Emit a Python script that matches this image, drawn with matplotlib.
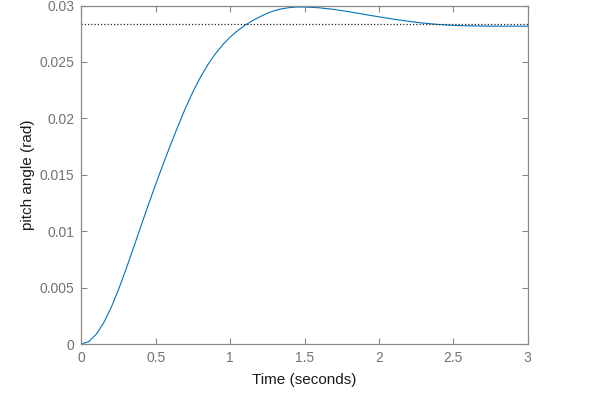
import matplotlib
matplotlib.use("Agg")
import matplotlib.pyplot as plt

# Step response readings (time in s, pitch angle in rad)
t_vals = [0.0, 0.05, 0.1, 0.15, 0.2, 0.25, 0.3, 0.35, 0.4, 0.45, 0.5,
          0.55, 0.6, 0.65, 0.7, 0.75, 0.8, 0.85, 0.9, 0.95, 1.0,
          1.05, 1.1, 1.15, 1.2, 1.25, 1.3, 1.35, 1.4, 1.45, 1.5,
          1.6, 1.7, 1.8, 1.9, 2.0, 2.1, 2.2, 2.3, 2.4, 2.5,
          2.6, 2.7, 2.8, 2.9, 3.0]
y_vals = [0.0, 0.000225, 0.000875, 0.0019, 0.00325, 0.00486, 0.00665, 0.00854, 0.01046, 0.01236, 0.0142,
          0.01598, 0.0177, 0.01936, 0.02094, 0.02238, 0.02365, 0.02477, 0.02572, 0.02653, 0.02721,
          0.02778, 0.02826, 0.02866, 0.02901, 0.02932, 0.02956, 0.02972, 0.02982, 0.02987, 0.02987,
          0.0298, 0.02965, 0.02945, 0.02922, 0.029, 0.02879, 0.0286, 0.02844, 0.02832, 0.02824,
          0.0282, 0.02818, 0.02817, 0.02817, 0.02817]
steady_state = 0.02833

x_ticks = [0, 0.5, 1, 1.5, 2, 2.5, 3]
x_tick_labels = ["0", "0.5", "1", "1.5", "2", "2.5", "3"]
y_ticks = [0, 0.005, 0.01, 0.015, 0.02, 0.025, 0.03]
y_tick_labels = ["0", "0.005", "0.01", "0.015", "0.02", "0.025", "0.03"]

plt.rcParams['font.family'] = ['Liberation Sans', 'DejaVu Sans']

fig = plt.figure(figsize=(5.91, 3.96), dpi=100)
ax = fig.add_axes([0.1379, 0.1313, 0.755, 0.8547])

ax.plot(t_vals, y_vals, color='#0072BD', lw=0.8)
ax.axhline(steady_state, color='#262626', lw=0.9, ls=(0, (1, 1.6)))

ax.set_xlim(0, 3)
ax.set_ylim(0, 0.03)
ax.set_xticks(x_ticks)
ax.set_xticklabels(x_tick_labels)
ax.set_yticks(y_ticks)
ax.set_yticklabels(y_tick_labels)

gray = '#8a8a8a'
for s in ax.spines.values():
    s.set_color(gray)
    s.set_linewidth(0.9)
ax.tick_params(direction='in', length=4, width=0.8, color=gray,
               labelcolor='#737373', labelsize=10,
               top=True, right=True, pad=5)

ax.set_xlabel('Time (seconds)', fontsize=11, color='#1a1a1a', labelpad=6)
ax.set_ylabel('pitch angle (rad)', fontsize=11, color='#1a1a1a', labelpad=3.5)

fig.savefig('out.png', dpi=100)
